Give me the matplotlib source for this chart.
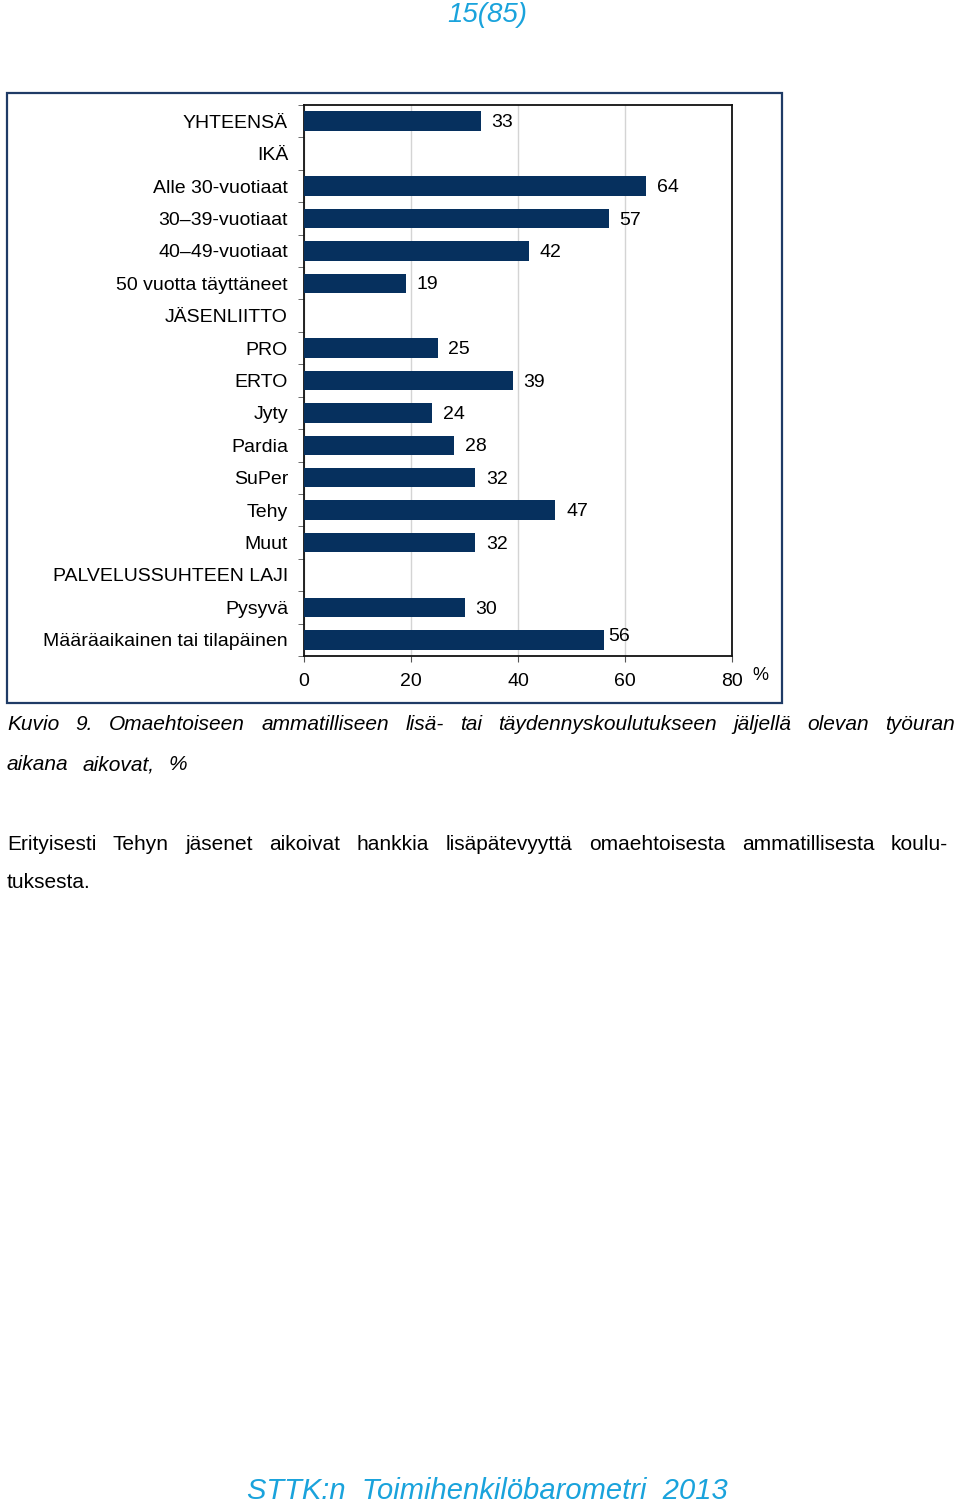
import numpy as np
import matplotlib
matplotlib.use("Agg")
import matplotlib.pyplot as plt
from matplotlib import font_manager
from matplotlib.patches import Rectangle

categories = ["YHTEENSÄ", "IKÄ", "Alle 30-vuotiaat", "30–39-vuotiaat", "40–49-vuotiaat",
              "50 vuotta täyttäneet", "JÄSENLIITTO", "PRO", "ERTO", "Jyty", "Pardia",
              "SuPer", "Tehy", "Muut", "PALVELUSSUHTEEN LAJI", "Pysyvä",
              "Määräaikainen tai tilapäinen"]
values = [33, np.nan, 64, 57, 42, 19, np.nan, 25, 39, 24, 28, 32, 47, 32, np.nan, 30, 56]
xticks = [0, 20, 40, 60, 80]

W, H = 960, 1509
fig = plt.figure(figsize=(W / 100, H / 100), dpi=100)

names = {f.name for f in font_manager.fontManager.ttflist}
base = "Liberation Sans" if "Liberation Sans" in names else "DejaVu Sans"
narrow = "Liberation Sans Narrow" if "Liberation Sans Narrow" in names else base
plt.rcParams["font.family"] = [base, "DejaVu Sans"]

navy = "#06305E"
cyan = "#1AA3DC"

def fx(px):
    return px / W

def fy(py):
    return 1 - py / H

# outer frame
fig.patches.append(Rectangle((fx(7), fy(703)), fx(782) - fx(7), fy(93) - fy(703),
                             transform=fig.transFigure, fill=False,
                             edgecolor="#1F3B66", linewidth=1.6))

ax = fig.add_axes([fx(304), fy(656), fx(732) - fx(304), fy(105) - fy(656)])
n = len(categories)
y = np.arange(n)
vals = np.array(values, dtype=float)
ax.barh(y, np.nan_to_num(vals), height=0.6, color=navy, zorder=3)
ax.set_ylim(n - 0.5, -0.5)
ax.set_xlim(0, 80)
ax.set_xticks(xticks)
ax.set_yticks(y)
ax.set_yticklabels(categories, fontsize=14)
ax.set_yticks(np.arange(-0.5, n, 1), minor=True)
ax.tick_params(axis="y", which="major", length=0, pad=11.5)
ax.tick_params(axis="y", which="minor", length=4, direction="out", color="#555555")
ax.tick_params(axis="x", length=4, direction="out", color="#555555", labelsize=14, pad=8)
ax.grid(axis="x", color="#D4D4D4", linewidth=1.0, zorder=0)
for s in ax.spines.values():
    s.set_color("#111111")
    s.set_linewidth(1.3)

for i, v in enumerate(vals):
    if np.isnan(v):
        continue
    if i == n - 1:
        ax.text(v + 0.8, i - 0.1, f"{int(v)}", va="center", ha="left", fontsize=14)
    else:
        ax.text(v + 2.0, i + 0.05, f"{int(v)}", va="center", ha="left", fontsize=14)

fig.text(fx(752), fy(675), "%", fontsize=13, ha="left", va="center")

# page number and footer
fig.text(fx(487), fy(15), "15(85)", fontsize=20, style="italic", color=cyan,
         ha="center", va="center")
fig.text(fx(487), fy(1491), "STTK:n  Toimihenkilöbarometri  2013", fontsize=21,
         style="italic", color=cyan, ha="center", va="center")

renderer = fig.canvas.get_renderer()

def justify(words, x0, x1, ypx, **kw):
    texts = [fig.text(0, fy(ypx), w, va="center", ha="left", **kw) for w in words]
    widths = [t.get_window_extent(renderer).width for t in texts]
    total = sum(widths)
    gap = (x1 - x0 - total) / max(len(words) - 1, 1)
    x = x0
    for t, w in zip(texts, widths):
        t.set_x(fx(x))
        x += w + gap

def left(words, x0, ypx, gap, **kw):
    x = x0
    for w in words:
        t = fig.text(fx(x), fy(ypx), w, va="center", ha="left", **kw)
        x += t.get_window_extent(renderer).width + gap

cap_kw = dict(fontsize=15, style="italic", family=[narrow, "DejaVu Sans"])
body_kw = dict(fontsize=15, family=[narrow, "DejaVu Sans"])

justify("Kuvio 9. Omaehtoiseen ammatilliseen lisä- tai täydennyskoulutukseen jäljellä olevan työuran".split(),
        7, 955, 725, **cap_kw)
left("aikana aikovat, %".split(), 7, 765, 14, **cap_kw)
justify("Erityisesti Tehyn jäsenet aikoivat hankkia lisäpätevyyttä omaehtoisesta ammatillisesta koulu-".split(),
        7, 948, 844, **body_kw)
left(["tuksesta."], 7, 883, 10, **body_kw)

fig.savefig("out.png", dpi=100)
